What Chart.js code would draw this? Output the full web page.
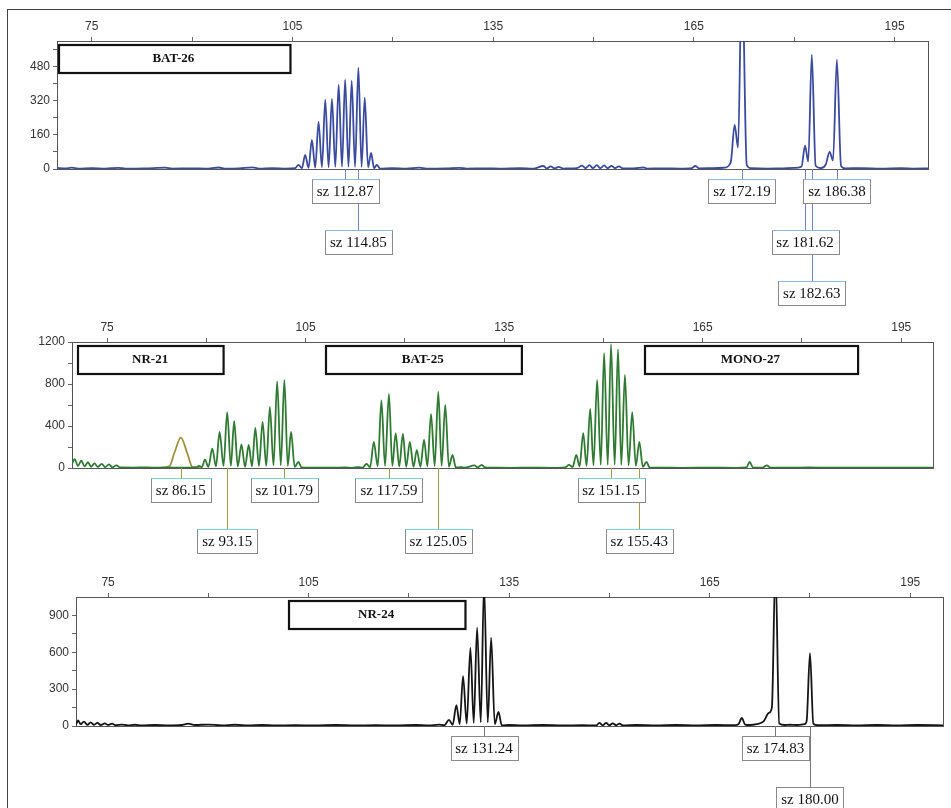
<!DOCTYPE html>
<html>
<head>
<meta charset="utf-8">
<script src="https://cdn.jsdelivr.net/npm/chart.js@4.4.0/dist/chart.umd.min.js"></script>
<style>
  body { margin: 0; background: #fff; }
  #wrap { position: relative; width: 951px; height: 808px; overflow: hidden; background: #fff; }
  #frame { position: absolute; left: 7px; top: 9px; width: 1000px; height: 900px;
           border-left: 1px solid #444; border-top: 1px solid #444; }
  canvas { position: absolute; left: 0; }
</style>
</head>
<body>
<div id="wrap">
  <div id="frame"></div>
  <canvas id="panelTop" width="951" height="315" style="top:0px"></canvas>
  <canvas id="panelMid" width="951" height="250" style="top:315px"></canvas>
  <canvas id="panelBot" width="951" height="243" style="top:565px"></canvas>
</div>
<script>
// size axis (bp), shared by all three dyes
const xTicks = [75, 90, 105, 120, 135, 150, 165, 180, 195];
const xTickLabels = [75, 105, 135, 165, 195];

// ---- blue dye: BAT-26 ----
const topYTicks = [0, 80, 160, 240, 320, 400, 480, 560];
const topYLabels = [0, 160, 320, 480];
const topSizes = [
  69.8, 71, 72, 73, 75, 77, 79, 80, 83, 86, 87, 90, 92, 94, 95, 97, 99, 100, 102, 104, 105.4,
  105.9, 106.4, 106.9, 107.4, 107.9, 108.4, 108.9, 109.4, 109.9, 110.4, 110.9, 111.4, 111.9, 112.4, 112.87, 113.37, 113.85, 114.35, 114.85, 115.33, 115.8, 116.3, 116.75, 117.2, 117.6, 118.1,
  120, 122, 124, 125, 128, 130, 131, 134, 136, 139, 141, 142.5, 143, 143.6, 144.2, 144.8, 145.5, 146.5, 147.5, 148.3, 148.8, 149.4, 149.9, 150.5, 151, 151.6, 152.1, 152.7, 153.2, 153.8, 154.4, 156, 157.5, 158, 160, 163, 164.7, 165.2, 165.8, 168,
  169.5, 170.5, 171.1, 171.6, 172.19, 172.9, 173.5, 176, 178, 180, 181.1, 181.62, 182.1, 182.63, 183.2, 184, 184.7, 185.3, 185.8, 186.38, 187, 187.6, 190, 193, 196, 198, 200
];
const topRFU = [
  5, 3, 6, 2, 4, 2, 5, 2, 3, 6, 2, 3, 2, 7, 2, 3, 8, 2, 4, 2, 4,
  19, 4, 66, 5, 136, 6, 221, 8, 325, 8, 329, 10, 395, 10, 419, 10, 414, 10, 475, 10, 334, 8, 75, 4, 19, 2,
  4, 2, 6, 2, 3, 5, 2, 3, 2, 4, 2, 14, 3, 12, 3, 10, 2, 3, 4, 16, 4, 18, 4, 18, 4, 17, 4, 15, 4, 12, 3, 3, 7, 2, 3, 2, 4, 14, 3, 4,
  6, 30, 207, 100, 950, 20, 4, 2, 3, 5, 12, 110, 35, 536, 15, 4, 20, 80, 40, 513, 15, 3, 4, 2, 4, 2, 3
];
const topBins = ['BAT-26'];
const topBinStart = [69.9];
const topBinEnd = [104.5];
const topCalls = [112.87, 114.85, 172.19, 186.38, 181.62, 182.63];

// ---- green dye: NR-21, BAT-25, MONO-27 ----
const midYTicks = [0, 200, 400, 600, 800, 1000, 1200];
const midYLabels = [0, 400, 800, 1200];
const midSizes = [
  69.7, 70.1, 70.6, 71.1, 71.6, 72.1, 72.6, 73.1, 73.6, 74.2, 74.7, 75.3, 75.8, 76.4, 77, 79, 81, 83, 86, 88, 88.4,
  88.9, 89.3, 89.8, 90.3, 90.9, 91.45, 92.0, 92.6, 93.15, 93.7, 94.2, 94.75, 95.3, 95.85, 96.4, 96.9, 97.4, 97.95, 98.5, 99.05, 99.6, 100.15, 100.7, 101.25, 101.79, 102.3, 102.8, 103.35, 103.9, 104.4,
  105.5, 107, 109, 111, 112, 113, 113.6, 114.2, 114.75, 115.3, 115.9, 116.45, 117.0, 117.59, 118.1, 118.6, 119.15, 119.7, 120.2, 120.75, 121.3, 121.8, 122.35, 122.9, 123.4, 123.95, 124.5, 125.05, 125.55, 126.1, 126.65, 127.2, 127.7,
  128.5, 129, 130.5, 131, 131.6, 132.1, 133, 136, 139, 142, 143.8, 144.3, 144.8, 145.35, 145.9, 146.4, 146.95, 147.45, 148.0, 148.5, 149.05, 149.6, 150.1, 150.65, 151.15, 151.7, 152.2, 152.7, 153.25, 153.8, 154.35, 154.9, 155.43, 155.95, 156.5, 157,
  158, 162, 166, 170, 171.6, 172.1, 172.6, 174, 174.7, 175.2, 178, 181, 184, 188, 192, 196, 200
];
const midRFU = [
  40, 85, 20, 70, 15, 55, 12, 45, 10, 40, 8, 35, 6, 25, 5, 4, 6, 3, 3, 4, 6,
  19, 8, 80, 10, 185, 15, 343, 20, 533, 20, 445, 15, 225, 12, 219, 15, 381, 18, 440, 20, 581, 25, 825, 25, 840, 20, 343, 10, 57, 5,
  3, 4, 3, 5, 2, 8, 4, 38, 8, 248, 15, 643, 20, 705, 20, 330, 15, 324, 12, 248, 10, 171, 12, 270, 15, 515, 20, 724, 20, 600, 12, 124, 5,
  8, 3, 25, 5, 30, 5, 3, 2, 3, 2, 4, 8, 29, 10, 124, 15, 333, 20, 562, 25, 838, 30, 1095, 30, 1180, 30, 1133, 30, 886, 25, 533, 20, 248, 10, 57, 4,
  3, 2, 3, 2, 5, 57, 5, 4, 25, 4, 3, 5, 3, 4, 3, 4, 3
];
// the NR-21 allele drawn in the olive overlay
const midOliveSizes = [83, 84.4, 85.2, 86.15, 87.1, 87.9, 89];
const midOliveRFU = [2, 15, 150, 289, 145, 10, 2];
const midBins = ['NR-21', 'BAT-25', 'MONO-27'];
const midBinStart = [70.5, 107.9, 156.1];
const midBinEnd = [92.5, 137.5, 188.3];
const midCalls = [86.15, 101.79, 117.59, 151.15, 93.15, 125.05, 155.43];

// ---- black dye: NR-24 ----
const botYTicks = [0, 150, 300, 450, 600, 750, 900];
const botYLabels = [0, 300, 600, 900];
const botSizes = [
  70.2, 70.5, 70.9, 71.4, 71.9, 72.4, 72.9, 73.4, 73.9, 74.5, 75, 75.6, 76.1, 77, 78, 79, 80, 82, 84, 86, 87, 88, 90, 92, 94, 96, 98, 100, 103, 106, 109, 112, 115, 118, 121, 123, 124.5, 125.3,
  126.0, 126.55, 127.1, 127.6, 128.1, 128.65, 129.2, 129.7, 130.2, 130.75, 131.24, 131.8, 132.3, 132.85, 133.4, 133.9,
  135, 137, 140, 143, 146, 148, 148.5, 149, 149.5, 150, 150.5, 151, 151.5, 152, 154, 157, 160, 163, 166, 168.5, 169.3, 169.8, 170.3, 171, 172, 173.1, 173.8, 174.3, 174.83, 175.4, 176.2, 177, 178, 179.2, 179.5, 180.0, 180.5, 181.2, 184, 187, 190, 193, 196, 200
];
const botRFU = [
  10, 45, 15, 35, 10, 30, 10, 25, 8, 22, 8, 20, 6, 12, 5, 10, 4, 8, 4, 8, 20, 8, 12, 5, 10, 4, 8, 4, 6, 4, 8, 4, 6, 4, 8, 4, 12, 6,
  50, 10, 170, 15, 405, 20, 636, 25, 800, 30, 1150, 30, 720, 15, 114, 5,
  8, 4, 8, 4, 6, 4, 25, 6, 25, 6, 22, 6, 20, 5, 8, 4, 8, 4, 8, 6, 15, 65, 12, 8, 15, 40, 105, 150, 1300, 20, 8, 10, 8, 15, 40, 592, 20, 6, 8, 4, 8, 4, 8, 5
];
const botBins = ['NR-24'];
const botBinStart = [101.9];
const botBinEnd = [128.3];
const botCalls = [131.24, 174.83, 180.00];

function toPoints(sizes, rfu) {
  return sizes.map((s, i) => ({ x: s, y: rfu[i] }));
}

function makePanel(id, o) {
  // frame, marker bins and size-call boxes
  const decor = {
    id: 'decor',
    beforeDatasetsDraw(chart) {
      const ctx = chart.ctx, a = chart.chartArea, xs = chart.scales.x;
      ctx.save();
      ctx.strokeStyle = '#555';
      ctx.lineWidth = 1;
      ctx.strokeRect(a.left + 0.5, a.top + 0.5, a.right - a.left, a.bottom - a.top);
      ctx.font = "bold 13px 'Liberation Serif'";
      ctx.textAlign = 'center';
      ctx.textBaseline = 'middle';
      o.bins.forEach((name, i) => {
        const l = xs.getPixelForValue(o.binStart[i]);
        const r = xs.getPixelForValue(o.binEnd[i]);
        ctx.lineWidth = 2.2;
        ctx.strokeStyle = '#111';
        ctx.strokeRect(Math.round(l) + 1, a.top + 4, r - l, 28);
        ctx.fillStyle = '#111';
        ctx.fillText(name, (l + r) / 2, a.top + 18);
      });
      ctx.restore();
    },
    afterDraw(chart) {
      const ctx = chart.ctx, a = chart.chartArea, xs = chart.scales.x;
      ctx.save();
      ctx.font = "15px 'Liberation Serif'";
      const rows = [];
      const boxes = o.calls.map(v => {
        const text = 'sz ' + v.toFixed(2);
        const w = Math.round(ctx.measureText(text).width + 10);
        const cx = xs.getPixelForValue(v);
        const l = cx - w / 2, r = cx + w / 2;
        let row = 0;
        while (rows[row] && rows[row].some(b => l < b.r + 3 && r > b.l - 3)) row++;
        (rows[row] = rows[row] || []).push({ l, r });
        return { text, cx, l, w, y: a.bottom + 22 + row * 51 };
      });
      ctx.lineWidth = 1;
      ctx.strokeStyle = o.lineColor;
      boxes.forEach(b => {
        const x = Math.round(b.cx) + 0.5;
        ctx.beginPath();
        ctx.moveTo(x, a.bottom);
        ctx.lineTo(x, b.y);
        ctx.stroke();
      });
      ctx.textAlign = 'center';
      ctx.textBaseline = 'middle';
      boxes.forEach(b => {
        const top = Math.round(b.y - 12) + 0.5, l = Math.round(b.l) + 0.5;
        ctx.fillStyle = '#fff';
        ctx.fillRect(l, top, b.w, 24);
        ctx.strokeStyle = '#8a8a8a';
        ctx.strokeRect(l, top, b.w, 24);
        ctx.strokeStyle = o.accent;
        ctx.beginPath();
        ctx.moveTo(l, top);
        ctx.lineTo(l + b.w, top);
        ctx.stroke();
        ctx.fillStyle = '#111';
        ctx.fillText(b.text, b.cx, b.y + 1);
      });
      ctx.restore();
    }
  };

  const tickFont = { family: 'Liberation Sans', size: 12 };

  return new Chart(document.getElementById(id), {
    type: 'line',
    data: {
      datasets: o.traces.map(t => ({
        data: toPoints(t.sizes, t.rfu),
        borderColor: t.color,
        borderWidth: 1.8,
        pointRadius: 0,
        fill: false,
        cubicInterpolationMode: 'monotone'
      }))
    },
    options: {
      responsive: false,
      animation: false,
      devicePixelRatio: 1,
      layout: { padding: { left: 0, top: 0, right: o.padRight, bottom: o.padBottom } },
      plugins: { legend: { display: false }, tooltip: { enabled: false } },
      scales: {
        x: {
          type: 'linear',
          position: 'top',
          min: o.xMin,
          max: o.xMax,
          afterFit: s => { s.height = o.axisTop; },
          afterBuildTicks: s => { s.ticks = xTicks.map(v => ({ value: v })); },
          ticks: {
            callback: v => xTickLabels.includes(v) ? String(v) : '',
            font: tickFont, color: '#333', padding: 3, maxRotation: 0, autoSkip: false
          },
          grid: { drawOnChartArea: false, tickLength: 4, color: '#666' },
          border: { display: false }
        },
        y: {
          type: 'linear',
          min: 0,
          max: o.yMax,
          afterFit: s => { s.width = o.axisLeft; },
          afterBuildTicks: s => { s.ticks = o.yTicks.map(v => ({ value: v })); },
          ticks: {
            callback: v => o.yLabels.includes(v) ? String(v) : '',
            font: tickFont, color: '#333', padding: 3, autoSkip: false
          },
          grid: { drawOnChartArea: false, tickLength: 4, color: '#666' },
          border: { display: false }
        }
      }
    },
    plugins: [decor]
  });
}

makePanel('panelTop', {
  traces: [{ sizes: topSizes, rfu: topRFU, color: '#3a4a9e' }],
  xMin: 69.8, xMax: 200, yMax: 600,
  yTicks: topYTicks, yLabels: topYLabels,
  axisLeft: 57, axisTop: 41, padRight: 23, padBottom: 146,
  bins: topBins, binStart: topBinStart, binEnd: topBinEnd,
  calls: topCalls, lineColor: '#6f82c4', accent: '#8fb8e0'
});

makePanel('panelMid', {
  traces: [
    { sizes: midSizes, rfu: midRFU, color: '#2f7a32' },
    { sizes: midOliveSizes, rfu: midOliveRFU, color: '#a0903c' }
  ],
  xMin: 69.7, xMax: 199.8, yMax: 1200,
  yTicks: midYTicks, yLabels: midYLabels,
  axisLeft: 72, axisTop: 27, padRight: 18, padBottom: 97,
  bins: midBins, binStart: midBinStart, binEnd: midBinEnd,
  calls: midCalls, lineColor: '#a39a52', accent: '#7fd3d3'
});

makePanel('panelBot', {
  traces: [{ sizes: botSizes, rfu: botRFU, color: '#151515' }],
  xMin: 70.2, xMax: 199.9, yMax: 1050,
  yTicks: botYTicks, yLabels: botYLabels,
  axisLeft: 76, axisTop: 32, padRight: 8, padBottom: 82,
  bins: botBins, binStart: botBinStart, binEnd: botBinEnd,
  calls: botCalls, lineColor: '#777', accent: '#8a8a8a'
});
</script>
</body>
</html>
